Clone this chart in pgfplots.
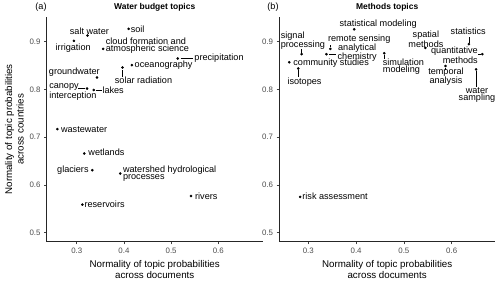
\documentclass[border=0pt]{standalone}
\usepackage{pgfplots}
\pgfplotsset{compat=1.18}
\usepackage{fontspec}
\setmainfont{Liberation Sans}
\newcommand{\labfont}{\fontsize{9.15}{7.3}\selectfont}
\tikzset{
  lab/.style={inner sep=0pt, font=\labfont, text=black},
  leader/.style={black, line width=0.5bp},
}
\begin{document}
\begin{tikzpicture}[x=1bp,y=1bp]
\useasboundingbox (0bp,0bp) rectangle (500bp,281bp);
\pgfplotsset{
  panel/.style={
    scale only axis, height=224.7bp,
    axis x line*=bottom, axis y line*=left,
    axis line style={-, black!85, line width=0.6bp},
    ymin=0.4812, ymax=0.9518,
    xtick={0.3,0.4,0.5,0.6}, ytick={0.5,0.6,0.7,0.8,0.9},
    tick align=outside, major tick length=2.7bp,
    tick style={black!75, line width=0.5bp},
    ticklabel style={font=\fontsize{7.9}{9}\selectfont, text=black!70},
    /pgf/number format/assume math mode=true,
    /pgf/number format/fixed, /pgf/number format/precision=1,
    clip=false,
    xlabel style={at={(axis description cs:0.5,0)}, anchor=north, yshift=-15bp, align=center, font=\fontsize{9.8}{11.6}\selectfont},
  },
}
% ---------------- panel (a)
\begin{axis}[panel, at={(46.7bp,39.3bp)}, anchor=south west, width=216bp,
  xmin=0.2364, xmax=0.694,
  xlabel={Normality of topic probabilities\\across documents},
  ylabel={Normality of topic probabilities\\across countries},
  ylabel style={at={(axis description cs:-0.15,0.5)}, anchor=center, align=center, font=\fontsize{9.8}{11.6}\selectfont},
]
\addplot[only marks, mark=*, mark size=1.1bp, black] coordinates {
(0.410,0.927) (0.323,0.913) (0.294,0.902) (0.356,0.885) (0.514,0.865)
(0.417,0.851) (0.397,0.846) (0.343,0.825) (0.322,0.802) (0.336,0.799)
(0.259,0.717) (0.316,0.666) (0.333,0.631) (0.392,0.624) (0.542,0.577)
(0.312,0.559)};
\node[lab, anchor=west, xshift=2bp] at (axis cs:0.410,0.927) {soil};
\node[lab, xshift=1.8bp, yshift=4bp] at (axis cs:0.323,0.913) {salt water};
\node[lab, xshift=-0.7bp, yshift=-7bp] at (axis cs:0.294,0.902) {irrigation};
\node[lab, align=left, anchor=west, xshift=2.5bp, yshift=3.5bp] at (axis cs:0.356,0.885) {cloud formation and\\atmospheric science};
\node[lab, anchor=west, xshift=16.5bp] at (axis cs:0.514,0.865) {precipitation};
\draw[leader] ([xshift=3bp]axis cs:0.514,0.865) -- ([xshift=15.5bp]axis cs:0.514,0.865);
\node[lab, anchor=west, xshift=2.6bp, yshift=-0.4bp] at (axis cs:0.417,0.851) {oceanography};
\node[lab, xshift=21bp, yshift=-12.3bp] at (axis cs:0.397,0.846) {solar radiation};
\draw[leader] ([yshift=-2.5bp]axis cs:0.397,0.846) -- ([yshift=-9bp]axis cs:0.397,0.846);
\node[lab, xshift=-22.7bp, yshift=5.3bp] at (axis cs:0.343,0.825) {groundwater};
\node[lab, align=left, anchor=west, xshift=-38bp, yshift=-3.4bp] at (axis cs:0.322,0.802) {canopy\\interception};
\draw[leader] ([xshift=-9bp]axis cs:0.322,0.802) -- ([xshift=-2bp]axis cs:0.322,0.802);
\node[lab, anchor=west, xshift=8.6bp] at (axis cs:0.336,0.799) {lakes};
\draw[leader] ([xshift=2bp]axis cs:0.336,0.799) -- ([xshift=8bp]axis cs:0.336,0.799);
\node[lab, anchor=west, xshift=3.5bp] at (axis cs:0.259,0.717) {wastewater};
\node[lab, anchor=west, xshift=4bp, yshift=1bp] at (axis cs:0.316,0.666) {wetlands};
\node[lab, anchor=east, xshift=-3.5bp, yshift=-0.4bp] at (axis cs:0.333,0.631) {glaciers};
\node[lab, align=left, anchor=west, xshift=2.7bp] at (axis cs:0.392,0.624) {watershed hydrological\\processes};
\node[lab, anchor=west, xshift=4bp] at (axis cs:0.542,0.577) {rivers};
\node[lab, anchor=west, xshift=2bp] at (axis cs:0.312,0.559) {reservoirs};
\end{axis}
% ---------------- panel (b)
\begin{axis}[panel, at={(279.3bp,39.3bp)}, anchor=south west, width=215.7bp,
  xmin=0.2393, xmax=0.6906,
  xlabel={Normality of topic probabilities\\across documents},
]
\addplot[only marks, mark=*, mark size=1.1bp, black] coordinates {
(0.396,0.926) (0.286,0.874) (0.346,0.885) (0.338,0.874) (0.260,0.857)
(0.279,0.844) (0.459,0.876) (0.545,0.887) (0.587,0.849) (0.636,0.895)
(0.664,0.874) (0.651,0.842) (0.283,0.575)};
\node[lab, xshift=24bp, yshift=5.3bp] at (axis cs:0.396,0.926) {statistical modeling};
\node[lab, align=left, anchor=west, xshift=-21bp, yshift=13.3bp] at (axis cs:0.286,0.874) {signal\\processing};
\draw[leader] ([yshift=1.5bp]axis cs:0.286,0.874) -- ([yshift=5bp]axis cs:0.286,0.874);
\node[lab, xshift=28.9bp, yshift=9.4bp] at (axis cs:0.346,0.885) {remote sensing};
\draw[leader] ([yshift=1.5bp]axis cs:0.346,0.885) -- ([yshift=4bp]axis cs:0.346,0.885);
\node[lab, align=center, anchor=west, xshift=11bp, yshift=1.7bp] at (axis cs:0.338,0.874) {analytical\\chemistry};
\draw[leader] ([xshift=3bp]axis cs:0.338,0.874) -- ([xshift=10bp]axis cs:0.338,0.874);
\node[lab, anchor=west, xshift=4bp, yshift=-0.5bp] at (axis cs:0.260,0.857) {community studies};
\node[lab, xshift=6.2bp, yshift=-14bp] at (axis cs:0.279,0.844) {isotopes};
\draw[leader] ([yshift=-2bp]axis cs:0.279,0.844) -- ([yshift=-9bp]axis cs:0.279,0.844);
\node[lab, align=left, anchor=west, xshift=-1.6bp, yshift=-13.4bp] at (axis cs:0.459,0.876) {simulation\\modeling};
\draw[leader] ([yshift=-2bp]axis cs:0.459,0.876) -- ([yshift=-6bp]axis cs:0.459,0.876);
\node[lab, align=center, xshift=0.5bp, yshift=8.7bp] at (axis cs:0.545,0.887) {spatial\\methods};
\node[lab, align=center, xshift=0.5bp, yshift=-10.7bp] at (axis cs:0.587,0.849) {temporal\\analysis};
\draw[leader] ([yshift=-1.5bp]axis cs:0.587,0.849) -- ([yshift=-4bp]axis cs:0.587,0.849);
\node[lab, xshift=-0.7bp, yshift=12.6bp] at (axis cs:0.636,0.895) {statistics};
\draw[leader] ([yshift=1.5bp]axis cs:0.636,0.895) -- ([yshift=7.5bp]axis cs:0.636,0.895);
\node[lab, align=right, anchor=east, xshift=-4.3bp, yshift=-1.2bp] at (axis cs:0.664,0.874) {quantitative\\methods};
\draw[leader] ([xshift=-4bp]axis cs:0.664,0.874) -- ([xshift=-1.5bp]axis cs:0.664,0.874);
\node[lab, align=center, xshift=0.9bp, yshift=-25.7bp] at (axis cs:0.651,0.842) {water\\sampling};
\draw[leader] ([yshift=-2bp]axis cs:0.651,0.842) -- ([yshift=-18bp]axis cs:0.651,0.842);
\node[lab, anchor=west, xshift=2bp, yshift=0.7bp] at (axis cs:0.283,0.575) {risk assessment};
\end{axis}
% titles and tags
\node[font=\bfseries\fontsize{8.5}{10}\selectfont, inner sep=0pt] at (154.7bp,274bp) {Water budget topics};
\node[font=\bfseries\fontsize{8.5}{10}\selectfont, inner sep=0pt] at (387.2bp,274bp) {Methods topics};
\node[font=\fontsize{9.15}{10}\selectfont, inner sep=0pt] at (41bp,274bp) {(a)};
\node[font=\fontsize{9.15}{10}\selectfont, inner sep=0pt] at (273bp,274bp) {(b)};
\end{tikzpicture}
\end{document}
